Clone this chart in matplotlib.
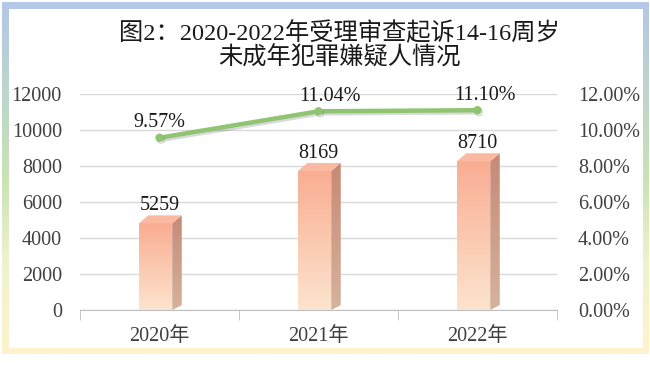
import numpy as np
import matplotlib
matplotlib.use("Agg")
import matplotlib.pyplot as plt
from matplotlib.patches import Polygon, Rectangle
from matplotlib.colors import LinearSegmentedColormap
import matplotlib.patheffects as pe
from matplotlib.ticker import FuncFormatter

plt.rcParams['font.family'] = ['Liberation Serif', 'Noto Sans CJK SC']

# data
years = ["2020年", "2021年", "2022年"]
counts = [5259, 8169, 8710]
shares = [0.0957, 0.1104, 0.1110]
title_1 = "图2：2020-2022年受理审查起诉14-16周岁"
title_2 = "未成年犯罪嫌疑人情况"

W, H = 650, 365
fig = plt.figure(figsize=(W / 100, H / 100), dpi=100)

# frame with vertical colour gradient
bg = fig.add_axes([0, 0, 1, 1], zorder=-1)
bg.axis("off")
frame_cmap = LinearSegmentedColormap.from_list(
    "frame", ["#B4C7E7", "#BDD5CC", "#C9E3B5", "#F2F2CF", "#FFF2CC"])
grad = np.linspace(0, 1, 256).reshape(-1, 1)
bg.imshow(grad, cmap=frame_cmap, extent=(2, 649, 354, 2), aspect="auto")
bg.add_patch(Rectangle((9, 9), 643 - 9, 348 - 9, facecolor="white", edgecolor="none"))
bg.set_xlim(0, W)
bg.set_ylim(H, 0)

fig.text(339 / W, 1 - 33 / H, title_1, ha="center", va="center", fontsize=17.5, color="#1a1a1a")
fig.text(339 / W, 1 - 58 / H, title_2, ha="center", va="center", fontsize=17.5, color="#1a1a1a")

ax = fig.add_axes([80 / W, 55 / H, 477 / W, 216 / H])
ax.patch.set_alpha(0)
x = np.arange(len(years))

front_cmap = LinearSegmentedColormap.from_list("front", ["#FDE4CE", "#F9AD92"])
side_cmap = LinearSegmentedColormap.from_list("side", ["#D6B29C", "#C68A76"])
vgrad = np.linspace(0, 1, 256).reshape(-1, 1)

left_off, right_off, dx, dy = 0.13, 0.08, 0.06, 450
for xi, v in zip(x, counts):
    x0, x1 = xi - left_off, xi + right_off
    front = Polygon([(x0, 0), (x1, 0), (x1, v - dy), (x0, v - dy)], closed=True,
                    facecolor="none", edgecolor="none")
    ax.add_patch(front)
    im = ax.imshow(vgrad, cmap=front_cmap, origin="lower", extent=(x0, x1, 0, v - dy),
                   aspect="auto", zorder=2)
    im.set_clip_path(front)
    side = Polygon([(x1, 0), (x1 + dx, dy * 0.6), (x1 + dx, v), (x1, v - dy)], closed=True,
                   facecolor="none", edgecolor="none")
    ax.add_patch(side)
    im2 = ax.imshow(vgrad, cmap=side_cmap, origin="lower", extent=(x1, x1 + dx, 0, v),
                    aspect="auto", zorder=2)
    im2.set_clip_path(side)
    ax.add_patch(Polygon([(x0, v - dy), (x1, v - dy), (x1 + dx, v), (x0 + dx, v)], closed=True,
                         facecolor="#FAB9A0", edgecolor="none", zorder=3))
    ax.text(xi, v + 550, str(v), ha="center", va="center", fontsize=14.5, color="#1a1a1a", zorder=5)

ax.set_xlim(-0.5, 2.5)
ax.set_ylim(0, 12000)
ax.set_yticks(range(0, 12001, 2000))
ax.grid(axis="y", color="#D9D9D9", linewidth=1)
ax.set_axisbelow(True)
for s in ["left", "right", "top"]:
    ax.spines[s].set_visible(False)
ax.spines["bottom"].set_color("#BFBFBF")
ax.set_xticks(x)
ax.set_xticklabels(years)
ax.set_xticks([-0.5, 0.5, 1.5, 2.5], minor=True)
ax.tick_params(axis="x", which="major", length=0, pad=12, labelsize=14.5, labelcolor="#404040")
ax.tick_params(axis="x", which="minor", length=7, color="#BFBFBF")
ax.tick_params(axis="y", length=0, pad=13, labelsize=14.5, labelcolor="#404040")

ax2 = ax.twinx()
ax2.set_ylim(0, 0.12)
ax2.set_yticks(np.arange(0, 0.1201, 0.02))
ax2.yaxis.set_major_formatter(FuncFormatter(lambda v, p: f"{v * 100:.2f}%"))
ax2.tick_params(axis="y", length=0, pad=15, labelsize=14.5, labelcolor="#404040")
for s in ax2.spines.values():
    s.set_visible(False)
ax2.plot(x, shares, color="#8FC570", linewidth=3.2, marker="o", markersize=5,
         solid_capstyle="round",
         path_effects=[pe.SimpleLineShadow(offset=(1, -1.5), alpha=0.15), pe.Normal()], zorder=4)
label_dx = [0, 0.07, 0.05]
for xi, s, ddx in zip(x, shares, label_dx):
    ax2.text(xi + ddx, s + 0.0082, f"{s * 100:.2f}%", ha="center", va="center",
             fontsize=14.5, color="#1a1a1a")

fig.savefig("out.png", dpi=100)
